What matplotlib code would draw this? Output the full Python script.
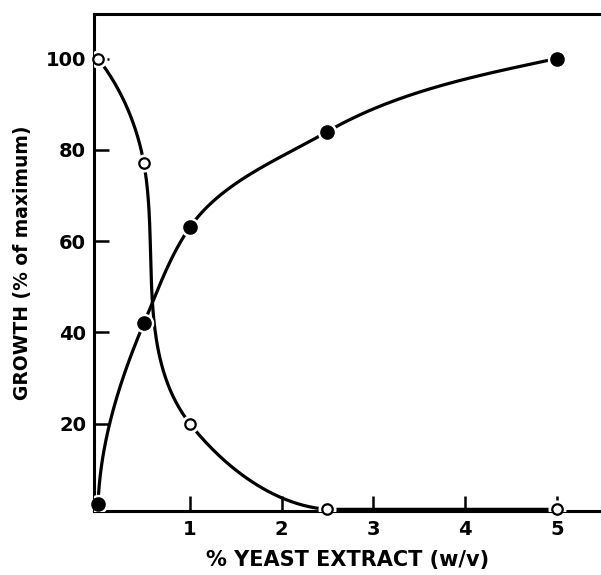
import matplotlib.pyplot as plt
import numpy as np

# yeast extract concentration (% w/v)
yeast_filled = [0.0, 0.5, 1.0, 2.5, 5.0]
growth_filled = [2.3, 42.0, 63.0, 84.0, 100.0]

yeast_open = [0.0, 0.5, 1.0, 2.5, 5.0]
growth_open = [100.0, 77.0, 20.0, 1.2, 1.2]

x_ticks = [1, 2, 3, 4, 5]
y_ticks = [20, 40, 60, 80, 100]


def hand_curve(ax, x, y, angles, n_seg=80, linear_last=False):
    # cubic Bezier through the points, with the slope at each point given
    # as an angle on screen (the original curves were drawn by hand)
    pts = ax.transData.transform(np.column_stack([x, y]))
    ang = np.radians(angles)
    tan = np.column_stack([np.cos(ang), np.sin(ang)])
    t = np.linspace(0, 1, n_seg)[:, None]
    out = []
    n_curved = len(pts) - 1 - (1 if linear_last else 0)
    for i in range(n_curved):
        p0, p3 = pts[i], pts[i + 1]
        L = np.linalg.norm(p3 - p0) / 3
        p1 = p0 + L * tan[i]
        p2 = p3 - L * tan[i + 1]
        b = ((1 - t) ** 3 * p0 + 3 * (1 - t) ** 2 * t * p1
             + 3 * (1 - t) * t ** 2 * p2 + t ** 3 * p3)
        out.append(b)
    if linear_last:
        out.append(pts[-2:])
    curve = ax.transData.inverted().transform(np.vstack(out))
    return curve[:, 0], curve[:, 1]


fig = plt.figure(figsize=(6.01, 5.75), dpi=100)
ax = fig.add_axes([0.157, 0.111, 0.843, 0.865])
ax.set_xlim(-0.04, 5.48)
ax.set_ylim(0.8, 109.8)

cx, cy = hand_curve(ax, yeast_filled, growth_filled, [88, 67, 55, 30, 12])
ax.plot(cx, cy, color="black", lw=2.3, solid_capstyle="round", zorder=2)
cx, cy = hand_curve(ax, yeast_open, growth_open, [-52, -80, -52, -4, 0],
                    linear_last=True)
ax.plot(cx, cy, color="black", lw=2.3, solid_capstyle="round", zorder=2)

# white halos so the lines break around the symbols
ax.plot(yeast_filled, growth_filled, "o", ms=13, color="white", zorder=3)
ax.plot(yeast_open, growth_open, "o", ms=12, color="white", zorder=3)
ax.plot(yeast_filled, growth_filled, "o", ms=9.5, color="black", zorder=4,
        clip_on=False)
ax.plot(yeast_open, growth_open, "o", ms=7.5, mfc="white", mec="black",
        mew=1.6, zorder=4, clip_on=False)

ax.set_xticks(x_ticks)
ax.set_yticks(y_ticks)
ax.tick_params(direction="in", length=11, width=1.8, labelsize=14, pad=6)
for lab in ax.get_xticklabels() + ax.get_yticklabels():
    lab.set_fontweight("bold")

ax.spines["right"].set_visible(False)
for s in ["left", "bottom", "top"]:
    ax.spines[s].set_linewidth(2.2)

ax.set_xlabel("% YEAST EXTRACT (w/v)", fontsize=15, fontweight="bold",
              labelpad=8)
ax.set_ylabel("GROWTH (% of maximum)", fontsize=13.5, fontweight="bold",
              labelpad=10)

fig.savefig("out.png", dpi=100)
